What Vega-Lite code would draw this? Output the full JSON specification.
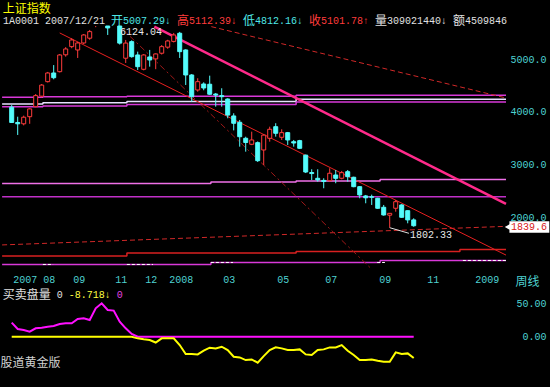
{
"$schema": "https://vega.github.io/schema/vega-lite/v6.json",
"background": "#000000",
"padding": 0,
"spacing": 0,
"bounds": "flush",
"config": {
 "view": {"stroke": null},
 "scale": {"continuousPadding": 0},
 "axis": {"domain": false, "grid": false, "ticks": false, "labelFont": "Liberation Mono", "labelFontSize": 10, "labelColor": "#4ed2d2"}
},
"datasets": {
 "candles": [
  {"d":"2007-06-29","k":0,"o":4090,"h":4130,"l":3790,"c":3800},
  {"d":"2007-07-06","k":1,"o":3800,"h":3910,"l":3563,"c":3775},
  {"d":"2007-07-13","k":2,"o":3775,"h":3930,"l":3745,"c":3900},
  {"d":"2007-07-20","k":3,"o":3910,"h":4070,"l":3775,"c":4058},
  {"d":"2007-07-27","k":4,"o":4100,"h":4340,"l":4090,"c":4310},
  {"d":"2007-08-03","k":5,"o":4300,"h":4530,"l":4280,"c":4510},
  {"d":"2007-08-10","k":6,"o":4575,"h":4760,"l":4560,"c":4740},
  {"d":"2007-08-17","k":7,"o":4740,"h":4890,"l":4620,"c":4650},
  {"d":"2007-08-24","k":8,"o":4765,"h":5100,"l":4750,"c":5082},
  {"d":"2007-08-31","k":9,"o":5085,"h":5230,"l":5050,"c":5196},
  {"d":"2007-09-07","k":10,"o":5240,"h":5400,"l":5210,"c":5367},
  {"d":"2007-09-14","k":11,"o":5177,"h":5330,"l":5025,"c":5310},
  {"d":"2007-09-21","k":12,"o":5310,"h":5480,"l":5290,"c":5462},
  {"d":"2007-09-28","k":13,"o":5400,"h":5557,"l":5370,"c":5525},
  {"d":"2007-10-12","k":14,"o":5640,"h":5913,"l":5610,"c":5903},
  {"d":"2007-10-19","k":15,"o":5900,"h":6124.04,"l":5750,"c":5818},
  {"d":"2007-10-26","k":16,"o":5800,"h":5850,"l":5462,"c":5595},
  {"d":"2007-11-02","k":17,"o":5650,"h":5960,"l":5640,"c":5914},
  {"d":"2007-11-09","k":18,"o":5900,"h":5920,"l":5280,"c":5307},
  {"d":"2007-11-16","k":19,"o":5020,"h":5367,"l":4930,"c":5308},
  {"d":"2007-11-23","k":20,"o":5335,"h":5360,"l":5030,"c":5050},
  {"d":"2007-11-30","k":21,"o":5082,"h":5145,"l":4797,"c":4860},
  {"d":"2007-12-07","k":22,"o":4810,"h":5100,"l":4790,"c":5082},
  {"d":"2007-12-14","k":23,"o":5044,"h":5178,"l":4860,"c":4987},
  {"d":"2007-12-21","k":24,"o":5007.29,"h":5112.39,"l":4812.16,"c":5101.78},
  {"d":"2007-12-28","k":25,"o":5115,"h":5270,"l":5090,"c":5240},
  {"d":"2008-01-04","k":26,"o":5230,"h":5370,"l":5200,"c":5348},
  {"d":"2008-01-11","k":27,"o":5340,"h":5500,"l":5320,"c":5462},
  {"d":"2008-01-18","k":28,"o":5494,"h":5520,"l":5025,"c":5145},
  {"d":"2008-01-25","k":29,"o":5177,"h":5190,"l":4512,"c":4702},
  {"d":"2008-02-01","k":30,"o":4702,"h":4720,"l":4195,"c":4290},
  {"d":"2008-02-05","k":31,"o":4417,"h":4640,"l":4385,"c":4575},
  {"d":"2008-02-15","k":32,"o":4531,"h":4563,"l":4412,"c":4455},
  {"d":"2008-02-22","k":33,"o":4526,"h":4689,"l":4322,"c":4336},
  {"d":"2008-02-29","k":34,"o":4340,"h":4360,"l":4100,"c":4320},
  {"d":"2008-03-07","k":35,"o":4310,"h":4450,"l":4100,"c":4290},
  {"d":"2008-03-14","k":36,"o":4245,"h":4260,"l":3880,"c":3941},
  {"d":"2008-03-21","k":37,"o":3924,"h":3975,"l":3650,"c":3785},
  {"d":"2008-03-28","k":38,"o":3804,"h":3848,"l":3341,"c":3530},
  {"d":"2008-04-03","k":39,"o":3500,"h":3530,"l":3246,"c":3420},
  {"d":"2008-04-11","k":40,"o":3386,"h":3626,"l":3370,"c":3468},
  {"d":"2008-04-18","k":41,"o":3417,"h":3440,"l":3050,"c":3075},
  {"d":"2008-04-25","k":42,"o":3278,"h":3570,"l":2993,"c":3560},
  {"d":"2008-04-30","k":43,"o":3500,"h":3720,"l":3436,"c":3671},
  {"d":"2008-05-09","k":44,"o":3720,"h":3786,"l":3531,"c":3595},
  {"d":"2008-05-16","k":45,"o":3519,"h":3671,"l":3468,"c":3607},
  {"d":"2008-05-23","k":46,"o":3607,"h":3620,"l":3373,"c":3468},
  {"d":"2008-05-30","k":47,"o":3435,"h":3468,"l":3341,"c":3410},
  {"d":"2008-06-06","k":48,"o":3455,"h":3470,"l":3300,"c":3310},
  {"d":"2008-06-13","k":49,"o":3180,"h":3190,"l":2840,"c":2860},
  {"d":"2008-06-20","k":50,"o":2850,"h":2912,"l":2708,"c":2830},
  {"d":"2008-06-27","k":51,"o":2740,"h":2912,"l":2676,"c":2710},
  {"d":"2008-07-04","k":52,"o":2700,"h":2741,"l":2551,"c":2680},
  {"d":"2008-07-11","k":53,"o":2695,"h":2931,"l":2676,"c":2836},
  {"d":"2008-07-18","k":54,"o":2803,"h":2898,"l":2646,"c":2740},
  {"d":"2008-07-25","k":55,"o":2741,"h":2880,"l":2720,"c":2847},
  {"d":"2008-08-01","k":56,"o":2866,"h":2898,"l":2676,"c":2771},
  {"d":"2008-08-08","k":57,"o":2760,"h":2770,"l":2570,"c":2581},
  {"d":"2008-08-15","k":58,"o":2581,"h":2590,"l":2361,"c":2424},
  {"d":"2008-08-22","k":59,"o":2405,"h":2424,"l":2266,"c":2370},
  {"d":"2008-08-29","k":60,"o":2390,"h":2430,"l":2234,"c":2380},
  {"d":"2008-09-05","k":61,"o":2361,"h":2370,"l":2160,"c":2171},
  {"d":"2008-09-12","k":62,"o":2190,"h":2234,"l":2030,"c":2044},
  {"d":"2008-09-19","k":63,"o":2040,"h":2080,"l":1802.33,"c":2075},
  {"d":"2008-09-26","k":64,"o":2171,"h":2329,"l":2106,"c":2296},
  {"d":"2008-10-10","k":65,"o":2234,"h":2250,"l":1990,"c":2000},
  {"d":"2008-10-17","k":66,"o":2125,"h":2130,"l":1886,"c":1950},
  {"d":"2008-10-24","k":67,"o":1950,"h":1981,"l":1820,"c":1839.6}
 ],
 "lvl": [
  {"s":"M1","k":-1.6,"v":4277},{"s":"M1","k":5.2,"v":4288},{"s":"M1","k":19.2,"v":4296},{"s":"M1","k":47.4,"v":4317},{"s":"M1","k":82.38,"v":4317},
  {"s":"W","k":-1.6,"v":4152},{"s":"W","k":5.2,"v":4176},{"s":"W","k":19.2,"v":4199},{"s":"W","k":47.4,"v":4240},{"s":"W","k":82.38,"v":4240},
  {"s":"M2","k":-1.6,"v":4100},{"s":"M2","k":5.2,"v":4114},{"s":"M2","k":19.2,"v":4142},{"s":"M2","k":47.4,"v":4190},{"s":"M2","k":82.38,"v":4190},
  {"s":"L1","k":-1.6,"v":2642},{"s":"L1","k":33.2,"v":2670},{"s":"L1","k":47.4,"v":2689},{"s":"L1","k":61.4,"v":2718},{"s":"L1","k":82.38,"v":2718},
  {"s":"M3","k":-1.6,"v":2391},{"s":"M3","k":82.38,"v":2391},
  {"s":"R1","k":-1.6,"v":1265},{"s":"R1","k":19.2,"v":1322},{"s":"R1","k":47.4,"v":1350},{"s":"R1","k":74.7,"v":1389},{"s":"R1","k":82.38,"v":1389},
  {"s":"M4","k":-1.6,"v":1104},{"s":"M4","k":33.2,"v":1142},{"s":"M4","k":61.4,"v":1180},{"s":"M4","k":82.38,"v":1180}
 ],
 "wd": [
  {"g":"a","k":5.2,"v":1104},{"g":"a","k":6.9,"v":1104},
  {"g":"b","k":19.2,"v":1104},{"g":"b","k":23.55,"v":1104},
  {"g":"c","k":33.2,"v":1142},{"g":"c","k":36.88,"v":1142},
  {"g":"d","k":60.9,"v":1142},{"g":"d","k":62.2,"v":1142},
  {"g":"e","k":75.2,"v":1180},{"g":"e","k":82.38,"v":1180}
 ],
 "dash": [
  {"s":"D1","k":-1.6,"v":1475},{"s":"D1","k":82.38,"v":1828},
  {"s":"D2","k":33.27,"v":5620},{"s":"D2","k":82.38,"v":4265}
 ],
 "steep": [{"k":18.04,"v":5620},{"k":59.8,"v":1037}],
 "chan": [{"k":8,"v":5500},{"k":82.38,"v":1282}],
 "pink": [{"k":23.77,"v":5620},{"k":82.38,"v":2253}],
 "ind": [
  {"k":0,"up":21,"dn":0},{"k":1,"up":11.5,"dn":0},{"k":2,"up":10,"dn":0},{"k":3,"up":7.5,"dn":0},{"k":4,"up":12.5,"dn":0},
  {"k":5,"up":13.5,"dn":0},{"k":6,"up":15,"dn":0},{"k":7,"up":16,"dn":0},{"k":8,"up":19,"dn":0},{"k":9,"up":20,"dn":0},
  {"k":10,"up":20,"dn":0},{"k":11,"up":26.5,"dn":0},{"k":12,"up":27.5,"dn":0},{"k":13,"up":25,"dn":0},{"k":14,"up":42.5,"dn":0},
  {"k":15,"up":50,"dn":0},{"k":16,"up":40,"dn":0},{"k":17,"up":39,"dn":0},{"k":18,"up":22.5,"dn":0},{"k":19,"up":12.5,"dn":0},
  {"k":20,"up":4,"dn":0},{"k":21,"up":0,"dn":-2.5},{"k":22,"up":0,"dn":-4},{"k":23,"up":0,"dn":-5},{"k":24,"up":0,"dn":-8.718},
  {"k":25,"up":0,"dn":-2.5},{"k":26,"up":0,"dn":-2.5},{"k":27,"up":0,"dn":-2.5},{"k":28,"up":0,"dn":-12.5},{"k":29,"up":0,"dn":-26},
  {"k":30,"up":0,"dn":-26},{"k":31,"up":0,"dn":-26.5},{"k":32,"up":0,"dn":-21},{"k":33,"up":0,"dn":-16.5},{"k":34,"up":0,"dn":-17.5},
  {"k":35,"up":0,"dn":-15},{"k":36,"up":0,"dn":-20},{"k":37,"up":0,"dn":-30},{"k":38,"up":0,"dn":-31},{"k":39,"up":0,"dn":-35},
  {"k":40,"up":0,"dn":-34},{"k":41,"up":0,"dn":-39},{"k":42,"up":0,"dn":-29},{"k":43,"up":0,"dn":-20},{"k":44,"up":0,"dn":-16},
  {"k":45,"up":0,"dn":-17.5},{"k":46,"up":0,"dn":-20},{"k":47,"up":0,"dn":-20},{"k":48,"up":0,"dn":-19},{"k":49,"up":0,"dn":-26.5},
  {"k":50,"up":0,"dn":-27.5},{"k":51,"up":0,"dn":-20},{"k":52,"up":0,"dn":-19},{"k":53,"up":0,"dn":-16},{"k":54,"up":0,"dn":-16},
  {"k":55,"up":0,"dn":-12.5},{"k":56,"up":0,"dn":-21},{"k":57,"up":0,"dn":-27.5},{"k":58,"up":0,"dn":-35},{"k":59,"up":0,"dn":-35},
  {"k":60,"up":0,"dn":-34},{"k":61,"up":0,"dn":-36},{"k":62,"up":0,"dn":-37.5},{"k":63,"up":0,"dn":-37.5},{"k":64,"up":0,"dn":-23.5},
  {"k":65,"up":0,"dn":-26},{"k":66,"up":0,"dn":-25},{"k":67,"up":0,"dn":-32}
 ]
},
"vconcat": [
 {
  "width": 506,
  "height": 26,
  "encoding": {
   "y": {"field": "row", "type": "nominal", "scale": {"domain": ["1", "2"], "padding": 0.54, "align": 0.63}, "axis": null},
   "text": {"field": "t"}
  },
  "layer": [
   {"data": {"values": [{"row": "1", "t": "上证指数"}]},
    "mark": {"type": "text", "align": "left", "baseline": "middle", "font": "Noto Sans CJK SC", "fontSize": 12, "color": "#ffff00"},
    "encoding": {"x": {"datum": -1.5, "type": "quantitative", "scale": {"domain": [-1.95, 82.38], "nice": false, "zero": false, "padding": 0}, "axis": null}}},
   {"data": {"values": [{"row": "2", "t": "1A0001 2007/12/21"}]},
    "mark": {"type": "text", "align": "left", "baseline": "middle", "font": "Liberation Mono", "fontSize": 10, "color": "#e0e0e0"},
    "encoding": {"x": {"datum": -1.45, "type": "quantitative", "axis": null}}},
   {"data": {"values": [{"row": "2", "t": "开"}]},
    "mark": {"type": "text", "align": "left", "baseline": "middle", "font": "Noto Sans CJK SC", "fontSize": 12, "color": "#4ee6e6"},
    "encoding": {"x": {"datum": 16.55, "type": "quantitative", "axis": null}}},
   {"data": {"values": [{"row": "2", "t": "5007.29↓"}]},
    "mark": {"type": "text", "align": "left", "baseline": "middle", "font": "Liberation Mono, DejaVu Sans Mono", "fontSize": 10, "color": "#4ee6e6"},
    "encoding": {"x": {"datum": 18.55, "type": "quantitative", "axis": null}}},
   {"data": {"values": [{"row": "2", "t": "高"}]},
    "mark": {"type": "text", "align": "left", "baseline": "middle", "font": "Noto Sans CJK SC", "fontSize": 12, "color": "#ff3c3c"},
    "encoding": {"x": {"datum": 27.55, "type": "quantitative", "axis": null}}},
   {"data": {"values": [{"row": "2", "t": "5112.39↓"}]},
    "mark": {"type": "text", "align": "left", "baseline": "middle", "font": "Liberation Mono, DejaVu Sans Mono", "fontSize": 10, "color": "#ff3c3c"},
    "encoding": {"x": {"datum": 29.55, "type": "quantitative", "axis": null}}},
   {"data": {"values": [{"row": "2", "t": "低"}]},
    "mark": {"type": "text", "align": "left", "baseline": "middle", "font": "Noto Sans CJK SC", "fontSize": 12, "color": "#4ee6e6"},
    "encoding": {"x": {"datum": 38.55, "type": "quantitative", "axis": null}}},
   {"data": {"values": [{"row": "2", "t": "4812.16↓"}]},
    "mark": {"type": "text", "align": "left", "baseline": "middle", "font": "Liberation Mono, DejaVu Sans Mono", "fontSize": 10, "color": "#4ee6e6"},
    "encoding": {"x": {"datum": 40.55, "type": "quantitative", "axis": null}}},
   {"data": {"values": [{"row": "2", "t": "收"}]},
    "mark": {"type": "text", "align": "left", "baseline": "middle", "font": "Noto Sans CJK SC", "fontSize": 12, "color": "#ff3c3c"},
    "encoding": {"x": {"datum": 49.55, "type": "quantitative", "axis": null}}},
   {"data": {"values": [{"row": "2", "t": "5101.78↑"}]},
    "mark": {"type": "text", "align": "left", "baseline": "middle", "font": "Liberation Mono, DejaVu Sans Mono", "fontSize": 10, "color": "#ff3c3c"},
    "encoding": {"x": {"datum": 51.55, "type": "quantitative", "axis": null}}},
   {"data": {"values": [{"row": "2", "t": "量"}]},
    "mark": {"type": "text", "align": "left", "baseline": "middle", "font": "Noto Sans CJK SC", "fontSize": 12, "color": "#e0e0e0"},
    "encoding": {"x": {"datum": 60.55, "type": "quantitative", "axis": null}}},
   {"data": {"values": [{"row": "2", "t": "309021440↓"}]},
    "mark": {"type": "text", "align": "left", "baseline": "middle", "font": "Liberation Mono, DejaVu Sans Mono", "fontSize": 10, "color": "#e0e0e0"},
    "encoding": {"x": {"datum": 62.55, "type": "quantitative", "axis": null}}},
   {"data": {"values": [{"row": "2", "t": "额"}]},
    "mark": {"type": "text", "align": "left", "baseline": "middle", "font": "Noto Sans CJK SC", "fontSize": 12, "color": "#e0e0e0"},
    "encoding": {"x": {"datum": 73.55, "type": "quantitative", "axis": null}}},
   {"data": {"values": [{"row": "2", "t": "4509846"}]},
    "mark": {"type": "text", "align": "left", "baseline": "middle", "font": "Liberation Mono", "fontSize": 10, "color": "#e0e0e0"},
    "encoding": {"x": {"datum": 75.55, "type": "quantitative", "axis": null}}}
  ]
 },
 {
  "width": 506,
  "height": 242,
  "layer": [
   {
    "data": {"name": "lvl"},
    "mark": {"type": "line", "interpolate": "step-after", "strokeWidth": 1.5, "strokeJoin": "bevel"},
    "encoding": {
     "x": {"field": "k", "type": "quantitative", "scale": {"domain": [-1.95, 82.38], "nice": false, "zero": false, "padding": 0},
      "axis": {"values": [0,5,10,17,22,26,35,44,52,61,69,77],
       "labelExpr": "['2007','08','09','11','12','2008','03','05','07','09','11','2009'][indexof([0,5,10,17,22,26,35,44,52,61,69,77], datum.value)]",
       "labelAlign": "left", "labelOffset": 1, "labelPadding": 6, "labelBaseline": "top", "labelFlush": false, "labelOverlap": false,
       "title": "周线", "titleX": 539, "titleY": 13, "titleAlign": "right", "titleBaseline": "middle", "titleColor": "#4ed2d2", "titleFont": "Noto Sans CJK SC", "titleFontSize": 12, "titleFontWeight": "normal"}},
     "y": {"field": "v", "type": "quantitative", "scale": {"domain": [1037, 5632], "nice": false, "zero": false, "padding": 0, "clamp": true},
      "axis": {"orient": "right", "values": [2000,3000,4000,5000], "format": ".1f", "labelAlign": "right", "labelPadding": 40, "labelBaseline": "middle", "title": null}},
     "color": {"field": "s", "type": "nominal", "legend": null,
      "scale": {"domain": ["M1","W","M2","L1","M3","R1","M4"], "range": ["#d838d8","#e8e0ff","#d838d8","#f070e8","#c030c8","#d82020","#d838d8"]}}
    }
   },
   {
    "data": {"name": "wd"},
    "mark": {"type": "line", "stroke": "#ffffff", "strokeWidth": 1, "strokeDash": [3, 2]},
    "encoding": {"x": {"field": "k", "type": "quantitative"}, "y": {"field": "v", "type": "quantitative"}, "detail": {"field": "g"}}
   },
   {
    "data": {"name": "dash"},
    "mark": {"type": "line", "stroke": "#d02828", "strokeWidth": 1, "strokeDash": [5, 3], "strokeJoin": "bevel"},
    "encoding": {"x": {"field": "k", "type": "quantitative"}, "y": {"field": "v", "type": "quantitative"}, "detail": {"field": "s"}}
   },
   {
    "data": {"name": "steep"},
    "mark": {"type": "line", "stroke": "#a01818", "strokeWidth": 1, "strokeDash": [6, 3, 2, 3]},
    "encoding": {"x": {"field": "k", "type": "quantitative"}, "y": {"field": "v", "type": "quantitative"}}
   },
   {
    "data": {"name": "chan"},
    "mark": {"type": "line", "stroke": "#e82020", "strokeWidth": 1},
    "encoding": {"x": {"field": "k", "type": "quantitative"}, "y": {"field": "v", "type": "quantitative"}}
   },
   {
    "data": {"name": "pink"},
    "mark": {"type": "line", "stroke": "#ff2a8a", "strokeWidth": 2.5},
    "encoding": {"x": {"field": "k", "type": "quantitative"}, "y": {"field": "v", "type": "quantitative"}}
   },
   {
    "data": {"name": "candles"},
    "transform": [{"filter": "datum.l < 5632"}],
    "mark": {"type": "rule", "strokeWidth": 1},
    "encoding": {
     "x": {"field": "k", "type": "quantitative"},
     "y": {"field": "l", "type": "quantitative"},
     "y2": {"field": "h"},
     "stroke": {"condition": {"test": "datum.c >= datum.o", "value": "#ff3c3c"}, "value": "#54fcfc"}
    }
   },
   {
    "data": {"name": "candles"},
    "transform": [{"filter": "min(datum.o, datum.c) < 5632"}],
    "mark": {"type": "bar", "size": 4, "strokeWidth": 1},
    "encoding": {
     "x": {"field": "k", "type": "quantitative"},
     "y": {"field": "o", "type": "quantitative"},
     "y2": {"field": "c"},
     "fill": {"condition": {"test": "datum.c >= datum.o", "value": "#000000"}, "value": "#54fcfc"},
     "stroke": {"condition": {"test": "datum.c >= datum.o", "value": "#ff3c3c"}, "value": "#54fcfc"}
    }
   },
   {
    "data": {"values": [{"t": "6124.04"}]},
    "mark": {"type": "text", "align": "left", "baseline": "middle", "font": "Liberation Mono", "fontSize": 10, "color": "#e8e8e8"},
    "encoding": {"x": {"datum": 18.05, "type": "quantitative"}, "y": {"datum": 5519, "type": "quantitative"}, "text": {"field": "t"}}
   },
   {
    "data": {"values": [{"t": "1802.33", "p": "a"}]},
    "mark": {"type": "rule", "color": "#e0e0e0", "strokeWidth": 1},
    "encoding": {"x": {"datum": 63, "type": "quantitative"}, "x2": {"datum": 66.2}, "y": {"datum": 1802.33, "type": "quantitative"}, "y2": {"datum": 1696}}
   },
   {
    "data": {"values": [{"t": "1802.33"}]},
    "mark": {"type": "text", "align": "left", "baseline": "middle", "font": "Liberation Mono", "fontSize": 10, "color": "#e8e8e8"},
    "encoding": {"x": {"datum": 66.38, "type": "quantitative"}, "y": {"datum": 1670, "type": "quantitative"}, "text": {"field": "t"}}
   },
   {
    "data": {"values": [{"t": "1839.6", "p": "box"}]},
    "mark": {"type": "rect", "fill": "#ffffff"},
    "encoding": {"x": {"datum": 82.95, "type": "quantitative"}, "x2": {"datum": 89.6}, "y": {"datum": 1926, "type": "quantitative"}, "y2": {"datum": 1706}}
   },
   {
    "data": {"values": [{"t": "1839.6", "p": "tip"}]},
    "mark": {"type": "point", "shape": "triangle-left", "filled": true, "fill": "#ffffff", "opacity": 1, "size": 60},
    "encoding": {"x": {"datum": 82.75, "type": "quantitative"}, "y": {"datum": 1816, "type": "quantitative"}}
   },
   {
    "data": {"values": [{"t": "1839.6"}]},
    "mark": {"type": "text", "align": "center", "baseline": "middle", "font": "Liberation Mono", "fontSize": 10, "color": "#d81818"},
    "encoding": {"x": {"datum": 86.2, "type": "quantitative"}, "y": {"datum": 1808, "type": "quantitative"}, "text": {"field": "t"}}
   }
  ]
 },
 {
  "width": 506,
  "height": 119,
  "layer": [
   {
    "data": {"name": "ind"},
    "mark": {"type": "line", "stroke": "#ff10ff", "strokeWidth": 2},
    "encoding": {
     "x": {"field": "k", "type": "quantitative", "scale": {"domain": [-1.95, 82.38], "nice": false, "zero": false, "padding": 0}, "axis": null},
     "y": {"field": "up", "type": "quantitative", "scale": {"domain": [-75.3, 102.8], "nice": false, "zero": false, "padding": 0},
      "axis": {"orient": "right", "values": [0, 50], "format": ".2f", "labelAlign": "right", "labelPadding": 40, "labelBaseline": "middle", "title": null}}
    }
   },
   {
    "data": {"name": "ind"},
    "mark": {"type": "line", "stroke": "#ffff00", "strokeWidth": 2},
    "encoding": {"x": {"field": "k", "type": "quantitative", "axis": null}, "y": {"field": "dn", "type": "quantitative"}}
   },
   {
    "data": {"values": [{"t": "买卖盘量"}]},
    "mark": {"type": "text", "align": "left", "baseline": "middle", "font": "Noto Sans CJK SC", "fontSize": 12, "color": "#e0e0e0"},
    "encoding": {"x": {"datum": -1.5, "type": "quantitative", "axis": null}, "y": {"datum": 62.4, "type": "quantitative"}, "text": {"field": "t"}}
   },
   {
    "data": {"values": [{"t": "0", "p": "w"}]},
    "mark": {"type": "text", "align": "left", "baseline": "middle", "font": "Liberation Mono", "fontSize": 10, "color": "#e0e0e0"},
    "encoding": {"x": {"datum": 7.5, "type": "quantitative", "axis": null}, "y": {"datum": 62.4, "type": "quantitative"}, "text": {"field": "t"}}
   },
   {
    "data": {"values": [{"t": "-8.718↓"}]},
    "mark": {"type": "text", "align": "left", "baseline": "middle", "font": "Liberation Mono, DejaVu Sans Mono", "fontSize": 10, "color": "#ffff40"},
    "encoding": {"x": {"datum": 9.5, "type": "quantitative", "axis": null}, "y": {"datum": 62.4, "type": "quantitative"}, "text": {"field": "t"}}
   },
   {
    "data": {"values": [{"t": "0", "p": "m"}]},
    "mark": {"type": "text", "align": "left", "baseline": "middle", "font": "Liberation Mono", "fontSize": 10, "color": "#e040e0"},
    "encoding": {"x": {"datum": 17.5, "type": "quantitative", "axis": null}, "y": {"datum": 62.4, "type": "quantitative"}, "text": {"field": "t"}}
   },
   {
    "data": {"values": [{"t": "股道黄金版"}]},
    "mark": {"type": "text", "align": "left", "baseline": "middle", "font": "Noto Sans CJK SC", "fontSize": 12, "color": "#d0d0d0"},
    "encoding": {"x": {"datum": -1.87, "type": "quantitative", "axis": null}, "y": {"datum": -40.1, "type": "quantitative"}, "text": {"field": "t"}}
   }
  ]
 }
]
}
